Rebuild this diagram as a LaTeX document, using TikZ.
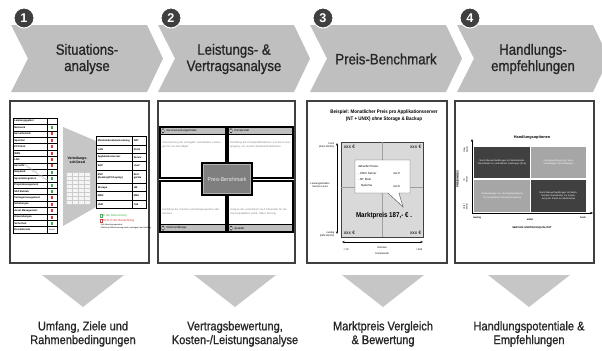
\documentclass[tikz,border=0pt]{standalone}
\usepackage{fontspec}
\setmainfont{Liberation Sans}
\newfontfamily\nar[FakeStretch=0.88]{Liberation Sans}
\newfontfamily\narb[FakeStretch=0.88,FakeBold=0.9]{Liberation Sans}
\usetikzlibrary{arrows.meta}
\definecolor{chevgray}{HTML}{BFBFBF}
\definecolor{trigray}{HTML}{C6C6C6}
\definecolor{txtdark}{HTML}{262626}
\definecolor{numdark}{HTML}{3F3F3F}
\definecolor{framec}{HTML}{404040}
\definecolor{okg}{HTML}{3DB54A}
\definecolor{nor}{HTML}{E53935}
\definecolor{boxgray}{HTML}{7F7F7F}
\definecolor{gridgray}{HTML}{D9D9D9}
\definecolor{qdark}{HTML}{404040}
\definecolor{qlight}{HTML}{A6A6A6}
\definecolor{bodygray}{HTML}{808080}
\newcommand\fsz[2]{\fontsize{#1}{#2}\selectfont}
\tikzset{
  chevtext/.style={font=\narb\fsz{11.25}{12.2}, text=txtdark, align=center, inner sep=0},
  numcirc/.style={circle, fill=numdark, draw=white, line width=0.75pt, minimum size=15pt, inner sep=0, text=white, font=\bfseries\fsz{9.5}{10}},
  panel/.style={draw=framec, line width=0.8pt, fill=white},
  bottext/.style={font=\narb\fsz{9.4}{10.3}, text=txtdark, align=center, inner sep=0},
  tabline/.style={draw=black, line width=0.35pt},
  tabtxt/.style={font=\bfseries\fsz{1.9}{2.3}, inner sep=0, align=left},
  p2box/.style={draw=black, line width=0.9pt, fill=white},
  p2head/.style={draw=black, line width=0.9pt, fill=chevgray},
  p2hd/.style={font=\fsz{2.1}{2.5}, inner sep=0},
  p2bd/.style={font=\fsz{1.95}{2.9}, text=bodygray, inner sep=0, align=left, text width=46pt},
  tiny3/.style={font=\fsz{2.2}{2.7}, inner sep=0},
  qtext/.style={font=\fsz{1.75}{2.5}, text=white, align=center, inner sep=0, text width=38pt},
  axisarr/.style={line width=0.35pt, {Stealth[length=2pt,width=1.6pt]}-{Stealth[length=2pt,width=1.6pt]}},
  axisone/.style={line width=0.5pt, -{Stealth[length=2.2pt,width=1.8pt]}}
}
\begin{document}
\begin{tikzpicture}[x=0.75pt,y=-0.75pt]
\useasboundingbox (0,0) rectangle (602,350);

% chevrons
\foreach \i/\x/\lab in {1/11/{Situations-\\analyse}, 2/158/{Leistungs- \&\\Vertragsanalyse}, 3/310/{Preis-Benchmark}, 4/457/{Handlungs-\\empfehlungen}} {
  \fill[chevgray] (\x,25) -- ++(136,0) -- ++(16,33.5) -- ++(-16,33.5) -- ++(-136,0) -- ++(17,-33.5) -- cycle;
  \node[chevtext] (c\i) at (\x+76,59) {\lab};
  \node[numcirc] (n\i) at (\x+13,18) {\i};
}

% panels
\foreach \i/\a/\b in {1/10/149, 2/158/295, 3/307/447, 4/455/594}
  \draw[panel] (\a,101) rectangle (\b,263);

% down triangles and bottom labels
\foreach \i/\x/\lab in {1/83/{Umfang, Ziele und\\Rahmenbedingungen}, 2/235/{Vertragsbewertung,\\Kosten-/Leistungsanalyse}, 3/383/{Marktpreis Vergleich\\\& Bewertung}, 4/529/{Handlungspotentiale \&\\Empfehlungen}} {
  \fill[trigray] (\x-41,275) -- (\x+41,275) -- (\x,307) -- cycle;
  \node[bottext] (b\i) at (\x,334) {\lab};
}

% ---------- panel 1 ----------
\fill[trigray] (63,127) -- (96,141) -- (96,207) -- (63,226) -- cycle;
\node[font=\bfseries\fsz{2.6}{3.1}, align=center, inner sep=0] (vs) at (77.5,160) {Verteilungs-\\schlüssel};
\fill[white!92!gray] (66,172) rectangle (90,204);
\foreach \k in {0,...,8} \draw[gray!40, line width=0.2pt] (66,172+\k*4) -- (90,172+\k*4);
\foreach \k in {0,...,4} \draw[gray!40, line width=0.2pt] (66+\k*6,172) -- (66+\k*6,204);
\foreach \k in {0,...,5} \node[font=\fsz{1}{1.2}, text=gray, inner sep=0] (vg\k) at (68,178+\k*4) {--};

\foreach [count=\k] \nm/\cl in {Leistungsgebiet/none, Netzwerk/okg, Serverbetrieb/nor, Speicher/nor, {PC/Client}/nor, WAN/nor, LAN/nor, SecLAN/nor, Helpdesk/okg, Systemintegration/okg, Projektmanagement/okg, SAP Betrieb/okg, Vertragsmanagement/nor, Schulungen/nor, Asset Management/nor, Anwendungen/nor, Sicherheit/okg, Druckdienste/none} {
  \pgfmathsetmacro\yy{118+(\k-1)*6.39}
  \draw[tabline, fill=white] (13,\yy) rectangle (47,\yy+6.39);
  \draw[tabline, fill=white] (47,\yy) rectangle (57,\yy+6.39);
  \node[tabtxt, anchor=west] (l\k) at (14,\yy+3.2) {\nm};
  \path[fill=\cl] (50.8,\yy+1.7) rectangle (53.2,\yy+4.7);
}
\node[font=\fsz{1.5}{1.8}, inner sep=0] (lseit) at (52,229.8) {Seiten};
\node[rotate=-35, text=gray!60, font=\bfseries\fsz{2.2}{2.6}, inner sep=0] (wm) at (36,173) {Arbeitsplatzsysteme};

\foreach [count=\k] \t/\b/\nm/\un in {136.7/145/{Mindestabnahme/Leistung}/{SW²}, 145/153.3/LAN/Ports, 153.3/161/Applikationsserver/Server, 161/170/SAP/User², 170/183.3/{BVP\\(Desktop/PC/Laptop)}/{End\\geräte}, 183.3/191.7/Storage/GB, 191.7/200/MAN/Mbit, 200/208.3/UHD/Call} {
  \draw[tabline, fill=white, line width=0.5pt] (96,\t) rectangle (132,\b);
  \draw[tabline, fill=white, line width=0.5pt] (132,\t) rectangle (146,\b);
  \node[tabtxt, anchor=west] (r\k) at (97.5,{(\t+\b)/2}) {\nm};
  \node[tabtxt, anchor=west] (u\k) at (133.5,{(\t+\b)/2}) {\un};
}
\draw[okg, line width=0.3pt] (100,213.7) rectangle (101.8,217.1);
\node[tiny3, text=okg, anchor=west] (lg1) at (102.5,215.5) {In der Betrachtung};
\draw[nor, line width=0.3pt] (100,218.9) rectangle (101.8,222.3);
\node[tiny3, text=nor, anchor=west] (lg2) at (102.5,220.7) {Nicht in der Betrachtung};
\node[font=\fsz{1.5}{1.8}, inner sep=0, anchor=west] (lg3) at (100,225) {¹ Mit Abrechnungseinheit};
\node[font=\fsz{1.5}{1.8}, inner sep=0, anchor=west] (lg4) at (100,228) {² Mit/ohne Differenzierung nach Leistungsart und Umfang};

% ---------- panel 2 ----------
\draw[p2box] (160,127) rectangle (226,178);
\draw[p2head] (160,127) rectangle (226,134.5);
\draw[p2box] (228,127) rectangle (293,178);
\draw[p2head] (228,127) rectangle (293,134.5);
\draw[p2box] (160,181) rectangle (226,232);
\draw[p2head] (160,224.5) rectangle (226,232);
\draw[p2box] (228,181) rectangle (293,232);
\draw[p2head] (228,224.5) rectangle (293,232);
\foreach \x/\y in {163/130.75, 231/130.75, 163/228.25, 231/228.25}
  \draw[fill=white, line width=0.3pt] (\x,\y) ellipse [x radius=1.1, y radius=2.1];
\node[p2hd, anchor=west] (h1) at (166,130.75) {Service/Leistungsinhalte};
\node[p2hd, anchor=west] (h2) at (234,130.75) {Komplexität};
\node[p2hd, anchor=west] (h3) at (166,228.25) {Volumen/Menge};
\node[p2hd, anchor=west] (h4) at (234,228.25) {Qualität};
\node[p2bd, anchor=north west] (d1) at (162,141) {Untersuchung der vertraglich vereinbarten Leistungen für ein Ziel-Objekt};
\node[p2bd, anchor=north west] (d2) at (230,141) {Ermittlung der Komplexitätsfaktoren und deren Ausprägung, z.B. Anzahl Standorte/Plattformen};
\node[p2bd, anchor=south west] (d3) at (162,215) {Ermittlung der Volumen und Mengengerüste aller Services};
\node[p2bd, anchor=south west] (d4) at (230,215) {Analyse der vereinbarten SLA Parameter für die Servicequalitäten (Gold, Silber, Bronze)};
\draw[fill=boxgray, draw=black, line width=1pt] (202,163) rectangle (252,195);
\draw[gray!60, line width=0.3pt] (203.5,164.5) rectangle (250.5,193.5);
\node[font=\nar\fsz{4.3}{5}, text=gray!15, inner sep=0] (pb) at (227,179) {Preis-Benchmark};

% ---------- panel 3 ----------
\node[font=\nar\bfseries\fsz{3.8}{4.8}, align=center, inner sep=0] (t3) at (384,115.5) {Beispiel: Monatlicher Preis pro Applikationsserver\\(NT + UNIX) ohne Storage \& Backup};
\draw[fill=gridgray, draw=framec, line width=0.7pt] (341,142) rectangle (423,237);
\draw[gray!75, line width=0.4pt] (382,142) -- (382,237);
\draw[gray!75, line width=0.4pt] (341,187) -- (423,187);
\node[font=\fsz{3.6}{4.2}, inner sep=0, anchor=west] (x1) at (343.5,146.5) {xxx €};
\node[font=\fsz{3.6}{4.2}, inner sep=0, anchor=east] (x2) at (421.5,146.5) {xxx €};
\node[font=\fsz{3.6}{4.2}, inner sep=0, anchor=west] (x3) at (343.5,232.5) {xxx €};
\node[font=\fsz{3.6}{4.2}, inner sep=0, anchor=east] (x4) at (421.5,232.5) {xxx €};
\draw[fill=white, draw=gray!70!black, line width=0.35pt] (355,160) -- (410,160) -- (410,193) -- (399,193) -- (403,207) -- (388,193) -- (355,193) -- cycle;
\node[font=\fsz{2.2}{2.6}, inner sep=0, anchor=west] (bb1) at (358,166) {Aktuelle Preise:};
\node[font=\fsz{2.2}{2.6}, inner sep=0, anchor=west] (bb2) at (358,173) {- UNIX Server};
\node[font=\fsz{2.2}{2.6}, inner sep=0, anchor=west] (bb3) at (393,173) {xxx €};
\node[font=\fsz{2.2}{2.6}, inner sep=0, anchor=west] (bb4) at (358,179.5) {- NT Klein};
\node[font=\fsz{2.2}{2.6}, inner sep=0, anchor=west] (bb5) at (360.5,186) {Systeme};
\node[font=\fsz{2.2}{2.6}, inner sep=0, anchor=west] (bb6) at (393,186) {xxx €};
\node[font=\nar\bfseries\fsz{5.3}{6}, inner sep=0] (mp) at (384,216) {Marktpreis 187,- € .};
\coordinate (ya) at (337,143);
\coordinate (yb) at (337,234);
\draw[axisarr] (ya) -- (yb);
\coordinate (xa) at (342,242);
\coordinate (xb) at (423,242);
\draw[axisarr] (xa) -- (xb);
\node[font=\fsz{1.9}{2.3}, inner sep=0, align=right, anchor=east] (ah) at (334.5,145) {hoch\\(hohe 99,9\%)};
\node[font=\fsz{1.9}{2.3}, inner sep=0, align=center] (am) at (320,185.5) {Leistungsinhalte/\\Service Level};
\node[font=\fsz{1.9}{2.3}, inner sep=0, align=right, anchor=east] (an) at (334.5,234.5) {niedrig\\(tiefe 99,5\%)};
\node[font=\fsz{1.9}{2.3}, inner sep=0, align=center] (av) at (382,251) {Volumen\\\strut\\Komplexität};
\node[font=\fsz{1.9}{2.3}, inner sep=0] (a10) at (346,250) {< 10};
\node[font=\fsz{1.9}{2.3}, inner sep=0] (a300) at (419,250) {> 300};

% ---------- panel 4 ----------
\node[font=\bfseries\fsz{2.9}{3.4}, inner sep=0] (t4) at (532,138) {Handlungsoptionen};
\fill[qdark] (474,147) rectangle (530,178);
\fill[qlight] (531,147) rectangle (586,178);
\fill[qlight] (474,180) rectangle (530,212);
\fill[qdark] (531,180) rectangle (586,212);
\node[qtext] (q1) at (502,162.5) {Nach-/Neuverhandlungen mit bestehenden Dienstleister zu veränderten Leistungen (SLA)};
\node[qtext] (q2) at (558.5,162.5) {Vertragsverlängerung / keine notwendigen Verhandlungen};
\node[qtext] (q3) at (502,196) {Verhandlungen zur Vertragsbeendigung mit (veränderter) Neuausschreibung};
\node[qtext] (q4) at (558.5,196) {Nach-/Neuverhandlungen mit bestehendem Dienstleister zur Anpassung der Preise an Marktniveau};
\coordinate (o4) at (472,213);
\coordinate (y4) at (472,139);
\coordinate (x4) at (593,213);
\draw[axisone] (o4) -- (y4);
\draw[axisone] (o4) -- (x4);
\node[rotate=90, font=\bfseries\fsz{2.2}{2.6}, inner sep=0] (pi) at (457.5,179) {PREISINDEX};
\node[rotate=90, font=\fsz{1.7}{2}, inner sep=0, align=center] (k1) at (465.5,150) {Über\\Markt};
\node[rotate=90, font=\fsz{1.7}{2}, inner sep=0, align=center] (k2) at (465.5,180) {Im\\Markt};
\node[rotate=90, font=\fsz{1.7}{2}, inner sep=0, align=center] (k3) at (465.5,207) {Unter\\Markt};
\node[font=\bfseries\fsz{1.8}{2.2}, inner sep=0] (m1) at (477,217.5) {niedrig};
\node[font=\bfseries\fsz{1.8}{2.2}, inner sep=0] (m2) at (530,219.5) {mittel};
\node[font=\bfseries\fsz{1.8}{2.2}, inner sep=0] (m3) at (583,217.5) {hoch};
\node[font=\bfseries\fsz{1.9}{2.3}, inner sep=0] (xl) at (532,228) {SERVICE-/VERTRAGSQUALITÄT};
\end{tikzpicture}
\end{document}
